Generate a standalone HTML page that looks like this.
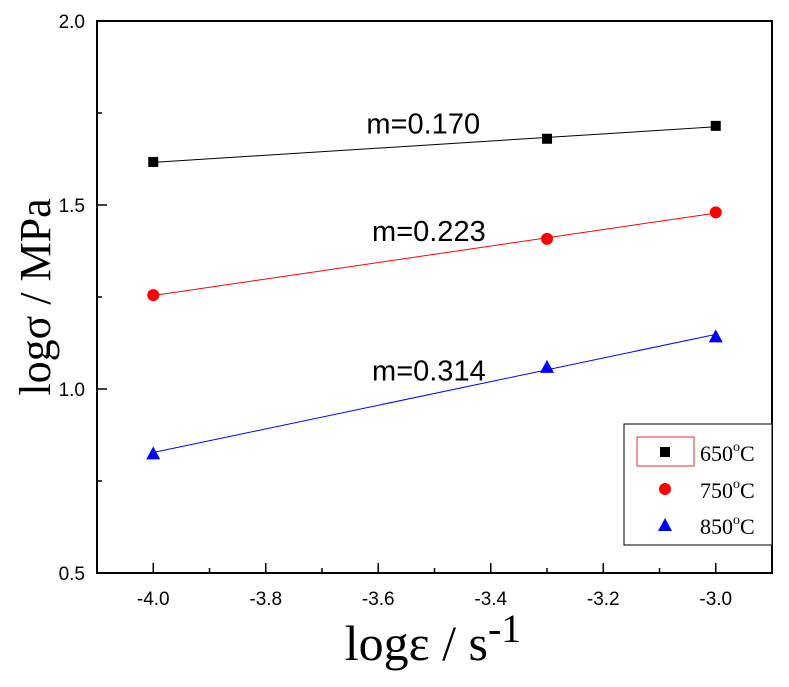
<!DOCTYPE html>
<html><head><meta charset="utf-8"><style>
body{margin:0;background:#fff;width:789px;height:682px;overflow:hidden}
</style></head><body>
<svg id="chart" width="789" height="682">
<g id="g"></g>
</svg>
<script>
const xValues=[-4.0,-3.3,-3.0];
const series650=[1.617,1.680,1.715];
const series750=[1.255,1.408,1.480];
const series850=[0.825,1.060,1.143];
const xTicks=[-4.0,-3.8,-3.6,-3.4,-3.2,-3.0];
const yTicks=[0.5,1.0,1.5,2.0];
const slopeLabels=["m=0.170","m=0.223","m=0.314"];
const seriesNames=["650","750","850"];
const L=97,R=772,T=21,B=573;
const sx=v=>L+(v+4.1)/1.2*(R-L);
const sy=v=>B-(v-0.5)/1.5*(B-T);
const g=document.getElementById('g');
const NS='http://www.w3.org/2000/svg';
const SANS='font-family:"Liberation Sans",Arial,sans-serif';
const SERIF='font-family:"Liberation Serif","Times New Roman",serif';
function mk(t,a){const e=document.createElementNS(NS,t);for(const k in a)e.setAttribute(k,a[k]);g.appendChild(e);return e;}
let e;
e=mk('rect',{x:L,y:T,width:R-L,height:B-T,fill:'none',stroke:'#000','stroke-width':2});


xTicks.forEach((v,i)=>{
 const x=sx(v);
 e=mk('line',{x1:x,x2:x,y1:B,y2:B-10,stroke:'#000','stroke-width':1.5});
 
 
 const m=sx(v+0.1);
 if(v<-3.0){e=mk('line',{x1:m,x2:m,y1:B,y2:B-5,stroke:'#000','stroke-width':1.5});
 
 }
 e=mk('text',{x:x,y:B+32,'font-size':19,'text-anchor':'middle',style:SANS});e.textContent=v.toFixed(1);
 
 
});
yTicks.forEach(v=>{
 const y=sy(v);
 e=mk('line',{x1:L,x2:L+10,y1:y,y2:y,stroke:'#000','stroke-width':1.5});
 
 
 if(v<2){const m=sy(v+0.25);e=mk('line',{x1:L,x2:L+5,y1:m,y2:m,stroke:'#000','stroke-width':1.5});
 
 }
 e=mk('text',{x:L-12,y:y+7,'font-size':19,'text-anchor':'end',style:SANS});e.textContent=v.toFixed(1);
 
 
});
const all=[series650,series750,series850];
const colors=['#000','#f00','#00f'];
const labelX=[-3.52,-3.51,-3.51];
const labelDy=[-12,-14,-14];
all.forEach((s,si)=>{
 const n=xValues.length;const mx=xValues.reduce((a,b)=>a+b)/n;const my=s.reduce((a,b)=>a+b)/n;
 let num=0,den=0;for(let i=0;i<n;i++){num+=(xValues[i]-mx)*(s[i]-my);den+=(xValues[i]-mx)**2;}
 const k=num/den,b=my-k*mx;
 e=mk('line',{x1:sx(-4),y1:sy(k*-4+b),x2:sx(-3),y2:sy(k*-3+b),stroke:colors[si],'stroke-width':1});
 
 
 const lx=labelX[si],ly=k*lx+b;
 e=mk('text',{x:sx(lx),y:sy(ly)+labelDy[si],'font-size':29,'text-anchor':'middle',style:SANS});e.textContent=slopeLabels[si];
 
 
 s.forEach((v,i)=>{
  const x=sx(xValues[i]),y=sy(v);
  if(si==0)e=mk('rect',{x:x-5,y:y-5,width:10,height:10,fill:'#000'});
  else if(si==1)e=mk('circle',{cx:x,cy:y,r:6,fill:'#f00'});
  else e=mk('polygon',{points:`${x},${y-7} ${x-7},${y+6} ${x+7},${y+6}`,fill:'#00f'});
  
  
 });
});
e=mk('rect',{x:624,y:424,width:148,height:121,fill:'#fff',stroke:'#000','stroke-width':1});


e=mk('rect',{x:637,y:437,width:57,height:29,fill:'none',stroke:'#d33','stroke-width':1});


const ly=[452,489,525];
seriesNames.forEach((nm,i)=>{
 const x=665,y=ly[i];
 if(i==0)e=mk('rect',{x:x-5,y:y-5,width:10,height:10,fill:'#000'});
 else if(i==1)e=mk('circle',{cx:x,cy:y,r:6,fill:'#f00'});
 else e=mk('polygon',{points:`${x},${y-7} ${x-7},${y+6} ${x+7},${y+6}`,fill:'#00f'});
 
 
 e=mk('text',{x:700,y:y+9,'font-size':22,style:SERIF});
 e.innerHTML=nm+'<tspan font-size="14" dy="-10">o</tspan><tspan dy="10">C</tspan>';
 
 
});
e=mk('text',{x:433,y:660,'font-size':50,'text-anchor':'middle',style:SERIF});
e.innerHTML='logε / s<tspan font-size="40" dy="-18">-1</tspan>';


e=mk('text',{x:0,y:0,'font-size':44,'text-anchor':'middle',style:SERIF,transform:'translate(50,297) rotate(-90)'});
e.textContent='logσ / MPa';


</script>
</body></html>
